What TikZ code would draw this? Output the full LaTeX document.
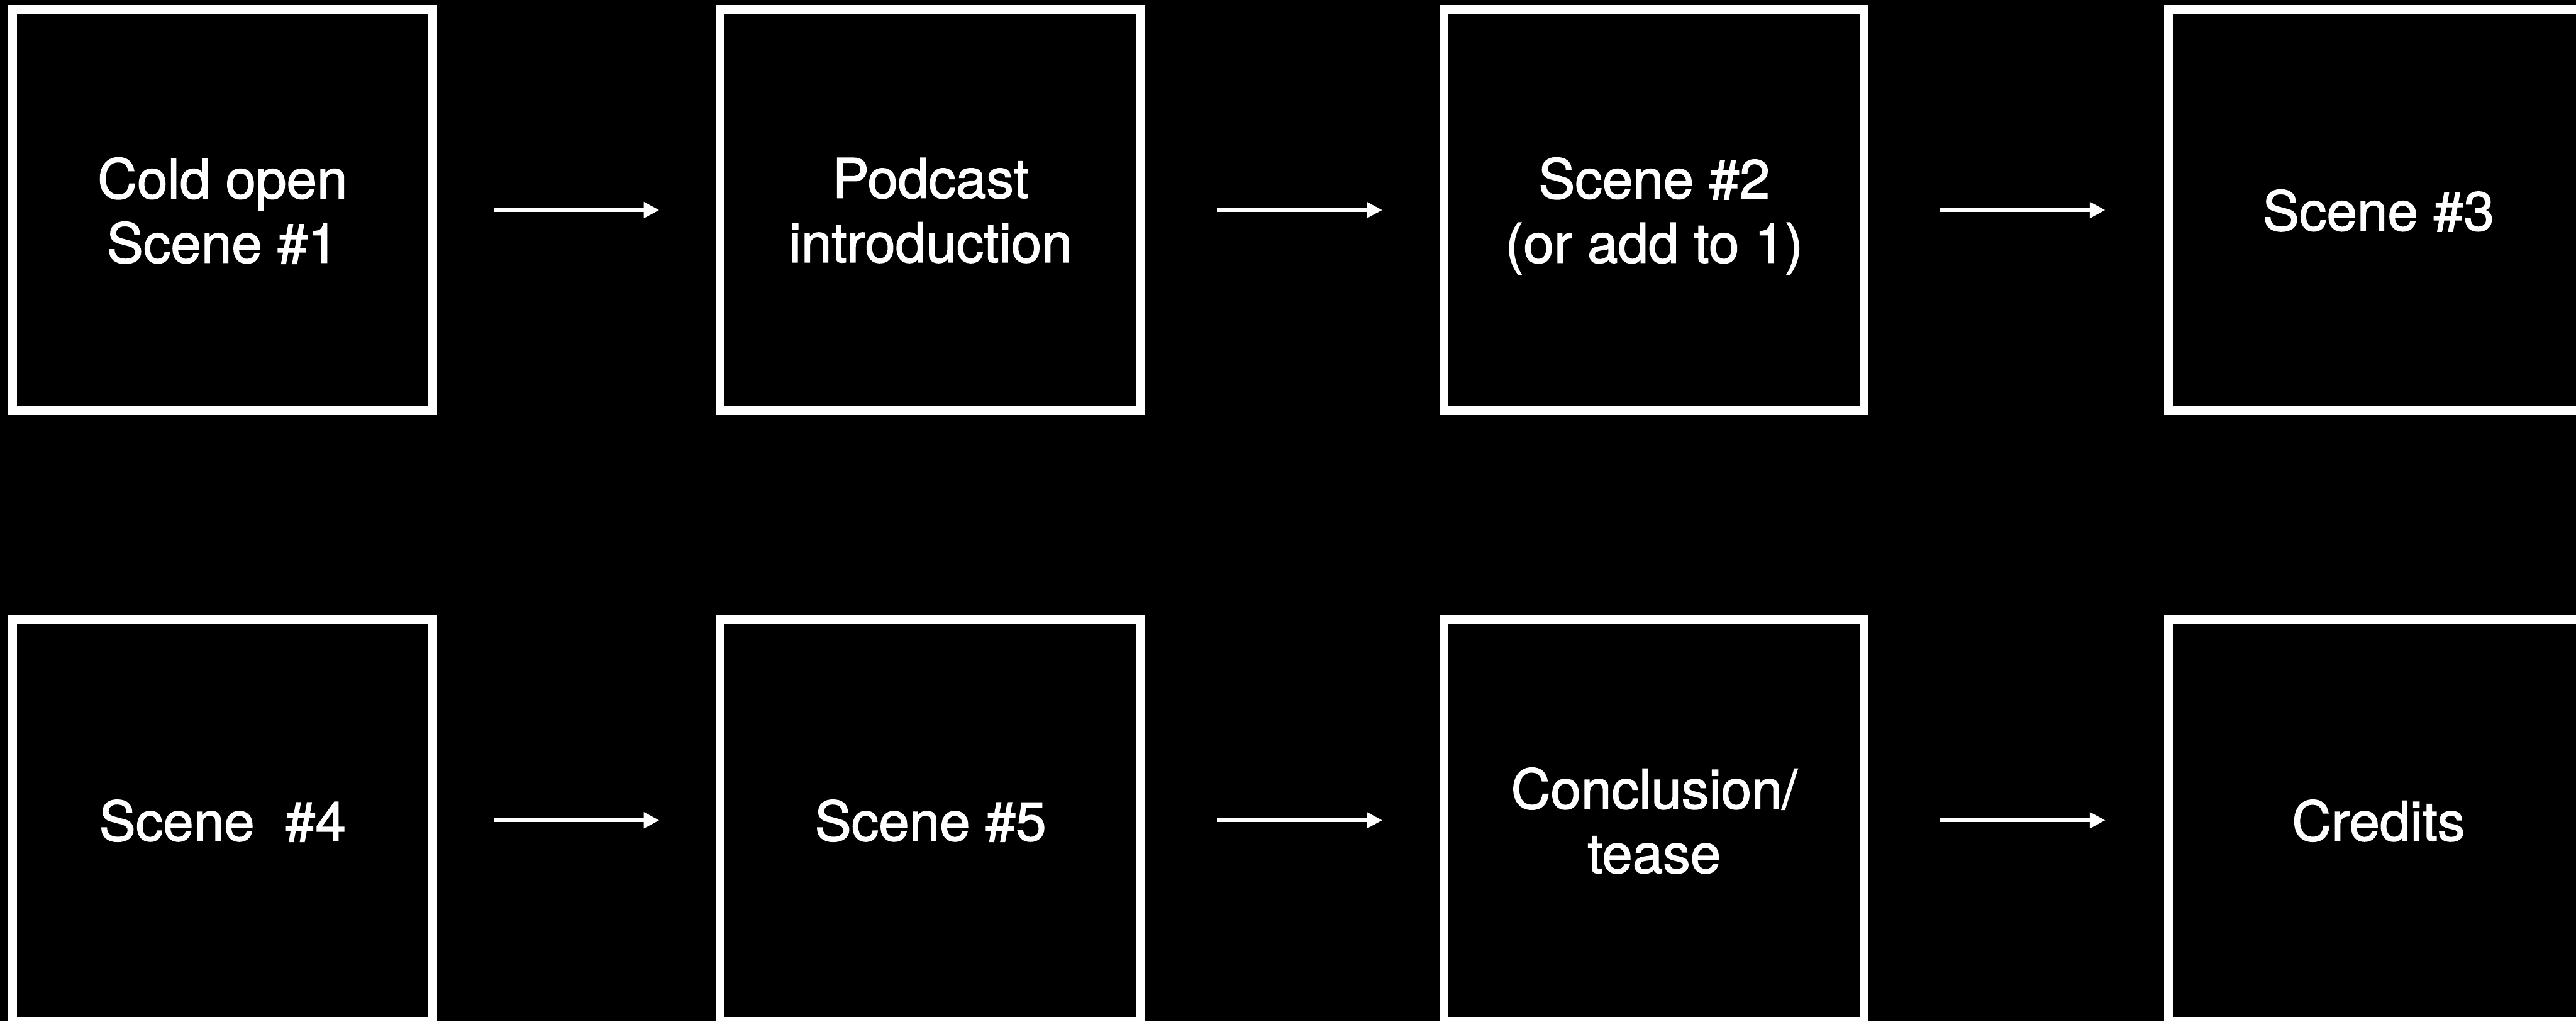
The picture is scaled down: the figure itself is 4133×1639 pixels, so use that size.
\documentclass[tikz,border=0pt]{standalone}
\usepackage{fontspec}
\setmainfont{TeX Gyre Heros}
\newfontfamily\boxfont[FakeBold=1.6]{TeX Gyre Heros}
\usetikzlibrary{arrows.meta}
\begin{document}
\begin{tikzpicture}[x=0.01cm,y=-0.01cm,
  box/.style={draw=white, line width=0.14cm, minimum width=6.74cm, minimum height=6.44cm,
    text=white, align=center, inner sep=0pt, text depth=0pt,
    font=\boxfont\fontsize{25}{29.3}\selectfont},
  arr/.style={draw=white, line width=0.057cm, -{Triangle[length=0.25cm,width=0.25cm]}}]
\fill[black] (0,0) rectangle (4133,1639);
\useasboundingbox (0,0) rectangle (4133,1639);
\clip (0,0) rectangle (4133,1639);
% row 1
\node[box] (b1) at (357,337) {Cold open\\Scene \#1};
\node[box] (b2) at (1493,337) {Podcast\\introduction};
\node[box] (b3) at (2654,337) {Scene \#2\\(or add to 1)};
\node[box] (b4) at (3816,337) {Scene \#3};
% row 2
\node[box] (c1) at (357,1316) {Scene~\ \#4};
\node[box] (c2) at (1493,1316) {Scene \#5};
\node[box] (c3) at (2654,1316) {Conclusion/\\tease};
\node[box] (c4) at (3816,1316) {Credits};
% arrows
\draw[arr, shorten <=0.91cm, shorten >=0.91cm] (b1) -- (b2);
\draw[arr, shorten <=1.15cm, shorten >=0.92cm] (b2) -- (b3);
\draw[arr, shorten <=1.15cm, shorten >=0.94cm] (b3) -- (b4);
\draw[arr, shorten <=0.91cm, shorten >=0.91cm] (c1) -- (c2);
\draw[arr, shorten <=1.15cm, shorten >=0.92cm] (c2) -- (c3);
\draw[arr, shorten <=1.15cm, shorten >=0.94cm] (c3) -- (c4);
\end{tikzpicture}
\end{document}
